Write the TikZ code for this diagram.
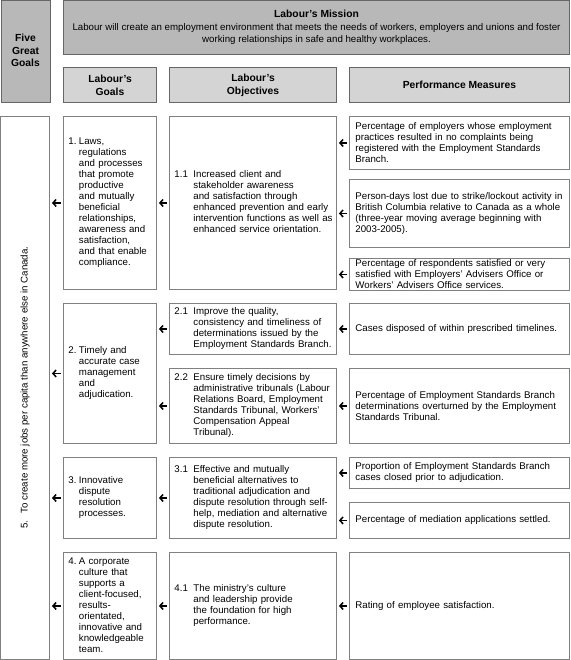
\documentclass[tikz,border=0pt]{standalone}
\usepackage{fontspec}
\setmainfont{Liberation Sans}
\usetikzlibrary{arrows.meta}

% Texto numerado con sangría francesa
\newcommand{\numitem}[3]{%
  \begin{tabular}{@{}p{#1}@{}l@{}}#2 & \begin{tabular}[t]{@{}l@{}}#3\end{tabular}\end{tabular}}

\begin{document}
\begin{tikzpicture}[x=1pt, y=-1pt,
        % Cajas grises de cabecera
        titlebox/.style={draw=black!60, line width=1pt, fill=black!28, anchor=north west, inner sep=0pt, align=center, font=\fontsize{10.3}{12.8}\selectfont\bfseries},
        headbox/.style={titlebox, fill=black!17},
        % Cajas blancas de texto
        cell/.style={draw=black!50, line width=0.9pt, anchor=north west, inner xsep=5pt, inner ysep=0pt, align=left, font=\fontsize{9.7}{11}\selectfont},
        goalcell/.style={cell, text width=83pt},
        objcell/.style={cell, text width=157pt},
        meascell/.style={cell, inner xsep=6pt, text width=208pt},
        % Flechas cortas entre columnas
        link/.style={-{Straight Barb[length=3.2pt,width=7pt]}, line width=1.5pt, shorten <=2.5pt, shorten >=2pt}
    ]
        \useasboundingbox (0,0) rectangle (570,660);

        % Cabeceras
        \node[titlebox, minimum width=49pt, minimum height=102pt] (five) at (0.5,0) {\raisebox{-8pt}{\begin{tabular}{@{}c@{}}Five\\Great\\Goals\end{tabular}}};
        \node[titlebox, minimum width=506pt, minimum height=54pt, font=\fontsize{9.7}{12.7}\selectfont] (mission) at (63,0) {\raisebox{-3pt}{\begin{tabular}{@{}c@{}}{\fontsize{10.3}{12}\selectfont\bfseries Labour’s Mission}\\Labour will create an employment environment that meets the needs of workers, employers and unions and foster\\working relationships in safe and healthy workplaces.\end{tabular}}};
        \node[headbox, minimum width=93pt, minimum height=35pt] (hgoal) at (63,67) {Labour’s\\Goals};
        \node[headbox, minimum width=167pt, minimum height=35pt] (hobj) at (169,67) {Labour’s\\Objectives};
        \node[headbox, minimum width=220pt, minimum height=35pt] (hmeas) at (349,67) {Performance Measures};

        % Meta 5 (texto vertical)
        \node[draw=black!50, line width=0.9pt, rotate=90, minimum width=543pt, minimum height=49pt, inner sep=0pt, font=\fontsize{9.7}{11}\selectfont] (big) at (25,387.5) {5.\hspace{7pt}To create more jobs per capita than anywhere else in Canada.};

        % Metas del ministerio
        \node[goalcell, minimum height=173pt] (g1) at (63,116) {\numitem{10.5pt}{1.}{Laws,\\regulations\\and processes\\that promote\\productive\\and mutually\\beneficial\\relationships,\\awareness and\\satisfaction,\\and that enable\\compliance.}};
        \node[goalcell, minimum height=140pt] (g2) at (63,303) {\numitem{10.5pt}{2.}{Timely and\\accurate case\\management\\and\\adjudication.}};
        \node[goalcell, minimum height=81pt] (g3) at (63,457) {\numitem{10.5pt}{3.}{Innovative\\dispute\\resolution\\processes.}};
        \node[goalcell, minimum height=107pt] (g4) at (63,552) {\numitem{10.5pt}{4.}{A corporate\\culture that\\supports a\\client-focused,\\results-\\orientated,\\innovative and\\knowledgeable\\team.}};

        % Objetivos
        \node[objcell, minimum height=173pt] (o1) at (169,116) {\numitem{19pt}{1.1}{Increased client and\\stakeholder awareness\\and satisfaction through\\enhanced prevention and early\\intervention functions as well as\\enhanced service orientation.}};
        \node[objcell, minimum height=51pt] (o21) at (169,303) {\numitem{19pt}{2.1}{Improve the quality,\\consistency and timeliness of\\determinations issued by the\\Employment Standards Branch.}};
        \node[objcell, minimum height=75pt] (o22) at (169,368) {\numitem{19pt}{2.2}{Ensure timely decisions by\\administrative tribunals (Labour\\Relations Board, Employment\\Standards Tribunal, Workers’\\Compensation Appeal\\Tribunal).}};
        \node[objcell, minimum height=81pt] (o3) at (169,457) {\numitem{19pt}{3.1}{Effective and mutually\\beneficial alternatives to\\traditional adjudication and\\dispute resolution through self-\\help, mediation and alternative\\dispute resolution.}};
        \node[objcell, minimum height=107pt] (o4) at (169,552) {\numitem{19pt}{4.1}{The ministry’s culture\\and leadership provide\\the foundation for high\\performance.}};

        % Medidas de desempeño
        \node[meascell, minimum height=53pt] (m11) at (349,116) {Percentage of employers whose employment\\practices resulted in no complaints being\\registered with the Employment Standards\\Branch.};
        \node[meascell, minimum height=68pt] (m12) at (349,179) {Person-days lost due to strike/lockout activity in\\British Columbia relative to Canada as a whole\\(three-year moving average beginning with\\2003-2005).};
        \node[meascell, minimum height=32pt] (m13) at (349,258) {Percentage of respondents satisfied or very\\satisfied with Employers’ Advisers Office or\\Workers’ Advisers Office services.};
        \node[meascell, minimum height=51pt] (m21) at (349,303) {Cases disposed of within prescribed timelines.};
        \node[meascell, minimum height=75pt] (m22) at (349,368) {Percentage of Employment Standards Branch\\determinations overturned by the Employment\\Standards Tribunal.};
        \node[meascell, minimum height=31pt] (m31) at (349,457) {Proportion of Employment Standards Branch\\cases closed prior to adjudication.};
        \node[meascell, minimum height=36pt] (m32) at (349,502) {Percentage of mediation applications settled.};
        \node[meascell, minimum height=107pt] (m4) at (349,552) {Rating of employee satisfaction.};

        % Flechas: medidas -> objetivos
        \draw[link] (m11.west) -- (m11.west -| o1.east);
        \draw[link] (m12.west) -- (m12.west -| o1.east);
        \draw[link] (m13.west) -- (m13.west -| o1.east);
        \draw[link] (m21.west) -- (m21.west -| o21.east);
        \draw[link] (m22.west) -- (m22.west -| o22.east);
        \draw[link] (m31.west) -- (m31.west -| o3.east);
        \draw[link] (m32.west) -- (m32.west -| o3.east);
        \draw[link] (m4.west) -- (m4.west -| o4.east);

        % Flechas: objetivos -> metas
        \draw[link] (o1.west) -- (o1.west -| g1.east);
        \draw[link] (o21.west) -- (o21.west -| g2.east);
        \draw[link] (o22.west) -- (o22.west -| g2.east);
        \draw[link] (o3.west) -- (o3.west -| g3.east);
        \draw[link] (o4.west) -- (o4.west -| g4.east);

        % Flechas: metas -> meta 5
        \draw[link] (g1.west) -- (g1.west -| big.south);
        \draw[link] (g2.west) -- (g2.west -| big.south);
        \draw[link] (g3.west) -- (g3.west -| big.south);
        \draw[link] (g4.west) -- (g4.west -| big.south);

    \end{tikzpicture}
\end{document}
